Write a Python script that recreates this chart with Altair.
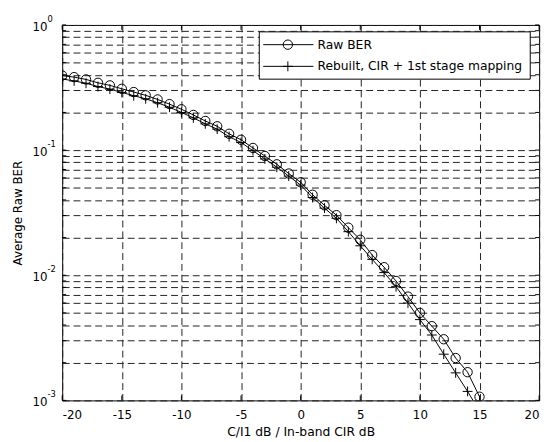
import altair as alt
import pandas as pd

# ---- data ----
snr_db = list(range(-20, 16))
raw_ber = [0.394, 0.383, 0.367, 0.345, 0.329, 0.309, 0.291, 0.274, 0.254, 0.233,
           0.212, 0.191, 0.171, 0.155, 0.135, 0.121, 0.104, 0.0897, 0.077, 0.065,
           0.0553, 0.0440, 0.0362, 0.0302, 0.0240, 0.0192, 0.0145, 0.0116, 0.0090, 0.00675,
           0.0050, 0.00392, 0.00308, 0.00218, 0.00168, 0.00107]
rebuilt_ber = [0.370, 0.357, 0.342, 0.322, 0.307, 0.289, 0.272, 0.257, 0.239, 0.220,
               0.200, 0.181, 0.162, 0.147, 0.128, 0.115, 0.099, 0.085, 0.073, 0.062,
               0.0525, 0.0418, 0.0344, 0.0285, 0.0223, 0.0172, 0.0134, 0.0105, 0.0081, 0.0060,
               0.00442, 0.00333, 0.00234, 0.00166, 0.00118, 0.00082]
series_names = ["Raw BER", "Rebuilt, CIR + 1st stage mapping"]

x_ticks = [-20, -15, -10, -5, 0, 5, 10, 15, 20]
y_major_exp = [0, -1, -2, -3]
y_grid = [m * 10.0 ** e for e in (-3, -2, -1) for m in range(1, 10)] + [1.0]

FONT = "DejaVu Sans"
PLUS = "M-1,0L1,0M0,-1L0,1"
W, H = 484, 381

df = pd.DataFrame({
    "snr": snr_db * 2,
    "ber": raw_ber + rebuilt_ber,
    "series": [series_names[0]] * len(snr_db) + [series_names[1]] * len(snr_db),
})

x_enc = alt.X(
    "snr:Q",
    scale=alt.Scale(domain=[-20, 20], nice=False, zero=False),
    axis=alt.Axis(
        values=x_ticks, grid=True, gridDash=[7, 4], gridColor="#222", gridWidth=1,
        ticks=False, tickSize=0, domain=False,
        labelExpr="'' + datum.value", labelFont=FONT, labelFontSize=12,
        labelColor="black", labelPadding=9,
        title="C/I1 dB / In-band CIR dB", titleFont=FONT, titleFontSize=12.5,
        titleFontWeight="normal", titleColor="black", titlePadding=6,
    ),
)
y_enc = alt.Y(
    "ber:Q",
    scale=alt.Scale(type="log", domain=[0.001, 1], nice=False),
    axis=alt.Axis(
        values=y_grid, grid=True, gridDash=[7, 4], gridColor="#222", gridWidth=1,
        labels=False, ticks=False, tickSize=0, domain=False,
        title="Average Raw BER", titleFont=FONT, titleFontSize=12,
        titleFontWeight="normal", titleColor="black", titlePadding=38,
    ),
)

base = alt.Chart(df)
lines = base.mark_line(color="black", strokeWidth=1, clip=True).encode(
    x=x_enc, y=y_enc, detail="series:N")
raw_pts = base.transform_filter(alt.datum.series == series_names[0]).mark_point(
    shape="circle", filled=False, size=90, color="black", strokeWidth=1, opacity=1, clip=True
).encode(x=x_enc, y=y_enc)
reb_pts = base.transform_filter(alt.datum.series == series_names[1]).mark_point(
    shape=PLUS, filled=False, size=100, color="black", strokeWidth=1, opacity=1, clip=True
).encode(x=x_enc, y=y_enc)

# inward tick marks on all four sides (MATLAB box style)
xt_df = pd.DataFrame({"snr": x_ticks})
yt_df = pd.DataFrame({"ber": y_grid})
tick_layers = [
    alt.Chart(xt_df).mark_rule(color="black", strokeWidth=1).encode(
        x=alt.X("snr:Q"), y=alt.value(H - 5), y2=alt.value(H)),
    alt.Chart(xt_df).mark_rule(color="black", strokeWidth=1).encode(
        x=alt.X("snr:Q"), y=alt.value(0), y2=alt.value(5)),
    alt.Chart(yt_df).mark_rule(color="black", strokeWidth=1).encode(
        y=alt.Y("ber:Q"), x=alt.value(0), x2=alt.value(4)),
    alt.Chart(yt_df).mark_rule(color="black", strokeWidth=1).encode(
        y=alt.Y("ber:Q"), x=alt.value(W - 4), x2=alt.value(W)),
]

# y tick labels 10^e drawn as text through the y scale
lab_df = pd.DataFrame({
    "ber": [10.0 ** e for e in y_major_exp],
    "base": ["10"] * len(y_major_exp),
    "exp": [str(e) for e in y_major_exp],
})
lab_base = alt.Chart(lab_df).mark_text(
    align="right", baseline="middle", dy=2, fontSize=12, font=FONT, color="black"
).encode(y=alt.Y("ber:Q"), x=alt.value(-15), text="base:N")
lab_exp = alt.Chart(lab_df).mark_text(
    align="left", baseline="middle", dy=-6, fontSize=8.5, font=FONT, color="black"
).encode(y=alt.Y("ber:Q"), x=alt.value(-15), text="exp:N")

# legend (box, line samples, markers, labels)
box = alt.Chart(pd.DataFrame({"k": [0]})).mark_rect(
    fill="white", stroke="black", strokeWidth=1
).encode(x=alt.value(200), x2=alt.value(475), y=alt.value(7), y2=alt.value(55))

legend_layers = [box]
row_y = [20, 42]
shapes = ["circle", PLUS]
sizes = [90, 100]
for i, name in enumerate(series_names):
    one = alt.Chart(pd.DataFrame({"label": [name]}))
    legend_layers.append(one.mark_rule(color="black", strokeWidth=1).encode(
        x=alt.value(204), x2=alt.value(255), y=alt.value(row_y[i])))
    legend_layers.append(one.mark_point(
        shape=shapes[i], filled=False, size=sizes[i], color="black", strokeWidth=1, opacity=1
    ).encode(x=alt.value(229), y=alt.value(row_y[i])))
    legend_layers.append(one.mark_text(
        align="left", baseline="middle", fontSize=12.5, font=FONT, color="black"
    ).encode(x=alt.value(259), y=alt.value(row_y[i]), text="label:N"))

chart = alt.layer(lines, raw_pts, reb_pts, *tick_layers, lab_base, lab_exp,
                  *legend_layers).properties(
    width=W, height=H,
    autosize=alt.AutoSizeParams(type="none"),
    padding={"left": 55, "top": 14, "right": 8, "bottom": 38},
    background="white",
).configure_view(stroke="black", strokeWidth=1)

chart.save("out.html", embed_options={"renderer": "svg", "actions": False})
